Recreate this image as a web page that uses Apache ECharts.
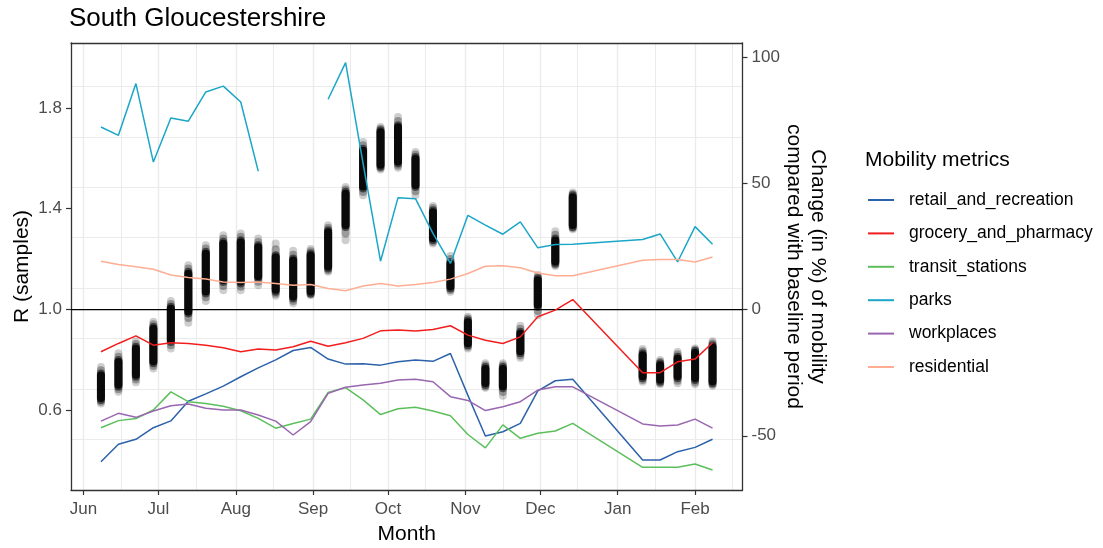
<!DOCTYPE html>
<html><head><meta charset="utf-8">
<script src="https://cdn.jsdelivr.net/npm/echarts@6/dist/echarts.min.js"></script>
<style>html,body{margin:0;padding:0;background:#fff}#c{width:1103px;height:548px}</style>
</head><body><div id="c"></div>
<script>
// ---------- DATA ----------
const mobDates = ['2020-06-08','2020-06-15','2020-06-22','2020-06-29','2020-07-06','2020-07-13','2020-07-20','2020-07-27',
  '2020-08-03','2020-08-10','2020-08-17','2020-08-24','2020-08-31','2020-09-07','2020-09-14','2020-09-21','2020-09-28',
  '2020-10-05','2020-10-12','2020-10-19','2020-10-26','2020-11-02','2020-11-09','2020-11-16','2020-11-23','2020-11-30',
  '2020-12-07','2020-12-14','2021-01-11','2021-01-18','2021-01-25','2021-02-01','2021-02-08'];
const retail = [-60.3,-53.4,-51.4,-46.8,-44.1,-36.3,-33.4,-30.3,-26.6,-23.1,-19.9,-16.2,-15.0,-19.6,-21.6,-21.5,-22.0,
  -20.7,-20.0,-20.5,-17.4,-34.0,-50.1,-48.4,-45.1,-32.2,-28.2,-27.6,-59.6,-59.6,-56.3,-54.6,-51.4];
const grocery = [-16.7,-13.4,-10.4,-14.1,-13.1,-13.4,-14.1,-15.1,-16.7,-15.6,-16.0,-14.7,-12.5,-14.5,-13.1,-11.4,-8.4,
  -8.1,-8.5,-7.9,-6.4,-10.1,-12.1,-13.4,-10.8,-2.8,-0.2,4.0,-25.0,-25.0,-20.7,-19.6,-13.1];
const transit = [-46.8,-44.0,-43.2,-39.8,-32.6,-36.5,-37.2,-38.3,-40.1,-43.1,-47.0,-45.1,-43.4,-32.8,-30.9,-35.8,-41.6,
  -39.3,-38.7,-40.2,-42.1,-49.5,-54.8,-45.7,-51.0,-49.0,-48.1,-45.1,-62.5,-62.5,-62.5,-61.2,-63.6];
const parks = [72.4,69.1,89.6,58.5,76.0,74.7,86.3,88.6,82.3,54.9,null,null,null,83.4,97.9,58.0,19.2,
  44.4,44.0,30.2,18.3,37.4,33.5,29.9,34.8,24.5,25.8,25.9,27.8,30.0,18.9,32.9,25.9];
const workplaces = [-44.2,-41.1,-42.7,-40.2,-38.1,-37.4,-39.1,-39.8,-39.8,-41.8,-44.2,-49.7,-44.4,-33.2,-30.8,-29.9,-29.2,
  -27.9,-27.6,-28.6,-34.5,-36.0,-40.0,-38.5,-36.5,-31.9,-30.6,-30.6,-45.3,-46.1,-45.7,-43.4,-47.0];
const residential = [19.2,17.9,17.0,16.0,13.7,12.7,12.1,11.0,10.8,11.0,10.4,9.7,10.0,8.4,7.5,9.4,10.4,
  9.4,10.0,10.8,12.1,14.3,17.2,17.4,16.6,14.5,13.4,13.4,19.6,19.9,19.9,18.9,20.9];

const metricNames = ['retail_and_recreation','grocery_and_pharmacy','transit_stations','parks','workplaces','residential'];
const metricValues = [retail, grocery, transit, parks, workplaces, residential];
const metricColors = ['#2C62A9','#F21E1E','#5CBF5C','#1BA6C8','#9966B0','#FFAE94'];

// R samples per week: outermost top, dense-core top, dense-core bottom, outermost bottom
const rDates = mobDates;
const rTop        = [0.773,0.827,0.875,0.952,1.034,1.176,1.255,1.295,1.302,1.282,1.262,1.233,1.240,1.335,1.486,1.665,1.724,
  1.764,1.625,1.411,1.213,0.972,0.787,0.787,0.936,1.137,1.311,1.464,0.844,0.800,0.833,0.846,0.875];
const rCoreTop    = [0.747,0.800,0.853,0.932,1.011,1.150,1.229,1.269,1.275,1.255,1.216,1.203,1.223,1.315,1.467,1.638,1.711,
  1.731,1.605,1.394,1.189,0.958,0.773,0.773,0.912,1.124,1.282,1.453,0.827,0.787,0.813,0.836,0.859];
const rCoreBottom = [0.642,0.694,0.734,0.787,0.872,0.985,1.064,1.110,1.104,1.124,1.071,1.044,1.064,1.163,1.328,1.480,1.566,
  1.579,1.486,1.275,1.084,0.859,0.701,0.688,0.827,1.011,1.183,1.328,0.728,0.714,0.728,0.721,0.708];
const rBottom     = [0.628,0.674,0.712,0.767,0.846,0.948,1.034,1.077,1.077,1.097,1.055,1.025,1.057,1.150,1.275,1.453,1.556,
  1.562,1.453,1.262,1.071,0.846,0.690,0.659,0.809,0.978,1.173,1.319,0.714,0.704,0.708,0.704,0.698];
const hlineR = 1.0;

const monthLabels = ['Jan','Feb','Mar','Apr','May','Jun','Jul','Aug','Sep','Oct','Nov','Dec'];
const rTickValues = [0.6, 1.0, 1.4, 1.8];
const mobTickValues = [-50, 0, 50, 100];

// ---------- AXIS DAYS ----------
const days = [];
for (let t = Date.UTC(2020,4,27); t <= Date.UTC(2021,1,20); t += 86400000) {
  days.push(new Date(t).toISOString().slice(0,10));
}
const isMonthStart = (i, v) => v.slice(8) === '01';
const isMidMonth = (i, v) => v.slice(8) === '16';

const FONT = "'Liberation Sans', Arial, sans-serif";
const chart = echarts.init(document.getElementById('c'), null, {renderer:'canvas'});

const series = [];
series.push({
  type: 'custom', name: 'R', xAxisIndex: 0, yAxisIndex: 0, z: 2, silent: true,
  encode: {x: 0, y: [1,2,3,4]},
  data: rDates.map((d,i) => [d, rTop[i], rBottom[i], rCoreTop[i], rCoreBottom[i]]),
  renderItem: function (params, api) {
    const xi = api.value(0);
    const pT = api.coord([xi, api.value(1)]);
    const pB = api.coord([xi, api.value(2)]);
    const cT = api.coord([xi, api.value(3)]);
    const cB = api.coord([xi, api.value(4)]);
    const r = 4;
    const mT = (pT[1] + cT[1]) / 2, mB = (pB[1] + cB[1]) / 2;
    return {type: 'group', children: [
      {type:'rect', shape:{x:pT[0]-r, y:pT[1]-r, width:2*r, height:pB[1]-pT[1]+2*r, r:r}, style:{fill:'rgba(0,0,0,0.12)'}},
      {type:'circle', shape:{cx:pT[0], cy:pT[1], r:r}, style:{fill:'rgba(0,0,0,0.08)'}},
      {type:'circle', shape:{cx:pB[0], cy:pB[1], r:r}, style:{fill:'rgba(0,0,0,0.08)'}},
      {type:'rect', shape:{x:cT[0]-r, y:mT-r, width:2*r, height:mB-mT+2*r, r:r}, style:{fill:'rgba(0,0,0,0.3)'}},
      {type:'rect', shape:{x:cT[0]-r, y:cT[1]-r, width:2*r, height:cB[1]-cT[1]+2*r, r:r}, style:{fill:'rgba(0,0,0,0.55)'}},
      {type:'rect', shape:{x:cT[0]-r, y:cT[1]-r+2, width:2*r, height:cB[1]-cT[1]+2*r-4, r:r}, style:{fill:'rgba(0,0,0,0.85)'}}
    ]};
  }
});
series.push({
  type: 'line', name: 'hline', xAxisIndex: 0, yAxisIndex: 0, z: 2, silent: true,
  symbol: 'none', data: [[days[0], hlineR], [days[days.length-1], hlineR]],
  lineStyle: {color: '#000', width: 1.4}
});
metricNames.forEach((n, k) => {
  series.push({
    type: 'line', name: n, xAxisIndex: 0, yAxisIndex: 1, z: 3, silent: true,
    symbol: 'none', showSymbol: false, connectNulls: false,
    color: metricColors[k],
    lineStyle: {color: metricColors[k], width: 1.5},
    data: mobDates.map((d,i) => [d, metricValues[k][i]])
  });
});

const axisLineStyle = {color: '#333333', width: 1.3};
const gridColor = '#EBEBEB';

chart.setOption({
  animation: false,
  backgroundColor: '#fff',
  textStyle: {fontFamily: FONT},
  title: [
    {text: 'South Gloucestershire', left: 69, top: 6, padding: 0,
     textStyle: {fontSize: 26, fontWeight: 'normal', color: '#000', fontFamily: FONT}},
    {text: 'Mobility metrics', left: 865, top: 150, padding: 0,
     textStyle: {fontSize: 21, fontWeight: 'normal', color: '#000', fontFamily: FONT}}
  ],
  legend: {
    data: metricNames, orient: 'vertical', left: 868, top: 190, padding: 0,
    icon: 'rect', itemWidth: 26, itemHeight: 2, itemGap: 13.4, selectedMode: false,
    textStyle: {fontSize: 17.5, color: '#000', lineHeight: 20, padding: [0,0,0,10], fontFamily: FONT}
  },
  grid: {left: 71, right: 360.5, top: 43, bottom: 58, containLabel: false, outerBoundsMode: 'none'},
  xAxis: [
    {type: 'category', data: days, boundaryGap: false, position: 'bottom',
     axisLine: {show: true, onZero: false, lineStyle: axisLineStyle},
     axisTick: {show: true, interval: isMonthStart, length: 5, lineStyle: {color: '#333333', width: 1.2}},
     axisLabel: {show: true, interval: isMonthStart, margin: 11, fontSize: 17, color: '#4D4D4D', fontFamily: FONT,
       formatter: v => monthLabels[parseInt(v.slice(5,7),10)-1]},
     splitLine: {show: true, interval: isMonthStart, lineStyle: {color: gridColor, width: 1.4}},
     name: 'Month', nameLocation: 'middle', nameGap: 34, nameMoveOverlap: false,
     nameTextStyle: {fontSize: 21, color: '#000', fontFamily: FONT}},
    {type: 'category', data: days, boundaryGap: false, position: 'top',
     axisLine: {show: true, onZero: false, lineStyle: axisLineStyle},
     axisTick: {show: false}, axisLabel: {show: false},
     splitLine: {show: true, interval: isMidMonth, lineStyle: {color: gridColor, width: 1.0}}}
  ],
  yAxis: [
    {type: 'value', position: 'left', min: 0.285, max: 2.057, interval: 0.2,
     axisLine: {show: true, onZero: false, lineStyle: axisLineStyle},
     axisTick: {show: false}, axisLabel: {show: false},
     splitLine: {show: true, lineStyle: {color: gridColor, width: 1.2}}},
    {type: 'value', position: 'right', min: -71.5, max: 105.7,
     axisLine: {show: true, onZero: false, lineStyle: axisLineStyle},
     axisTick: {show: true, length: 5, customValues: mobTickValues, lineStyle: {color: '#333333', width: 1.2}},
     axisLabel: {show: true, customValues: mobTickValues, margin: 9, fontSize: 17, color: '#4D4D4D', fontFamily: FONT},
     splitLine: {show: false},
     name: 'Change (in %) of mobility\ncompared with baseline period', nameLocation: 'middle', nameRotate: -90,
     nameGap: 40, nameMoveOverlap: false,
     nameTextStyle: {fontSize: 21, color: '#000', lineHeight: 23.5, fontFamily: FONT}},
    {type: 'value', position: 'left', min: 0.285, max: 2.057,
     axisLine: {show: false, onZero: false},
     axisTick: {show: true, length: 5, customValues: rTickValues, lineStyle: {color: '#333333', width: 1.2}},
     axisLabel: {show: true, customValues: rTickValues, margin: 9, fontSize: 17, color: '#4D4D4D', fontFamily: FONT,
       formatter: v => Number(v).toFixed(1)},
     splitLine: {show: false},
     name: 'R (samples)', nameLocation: 'middle', nameRotate: 90, nameGap: 38, nameMoveOverlap: false,
     nameTextStyle: {fontSize: 21, color: '#000', fontFamily: FONT}}
  ],
  series: series
});
</script>
</body></html>
